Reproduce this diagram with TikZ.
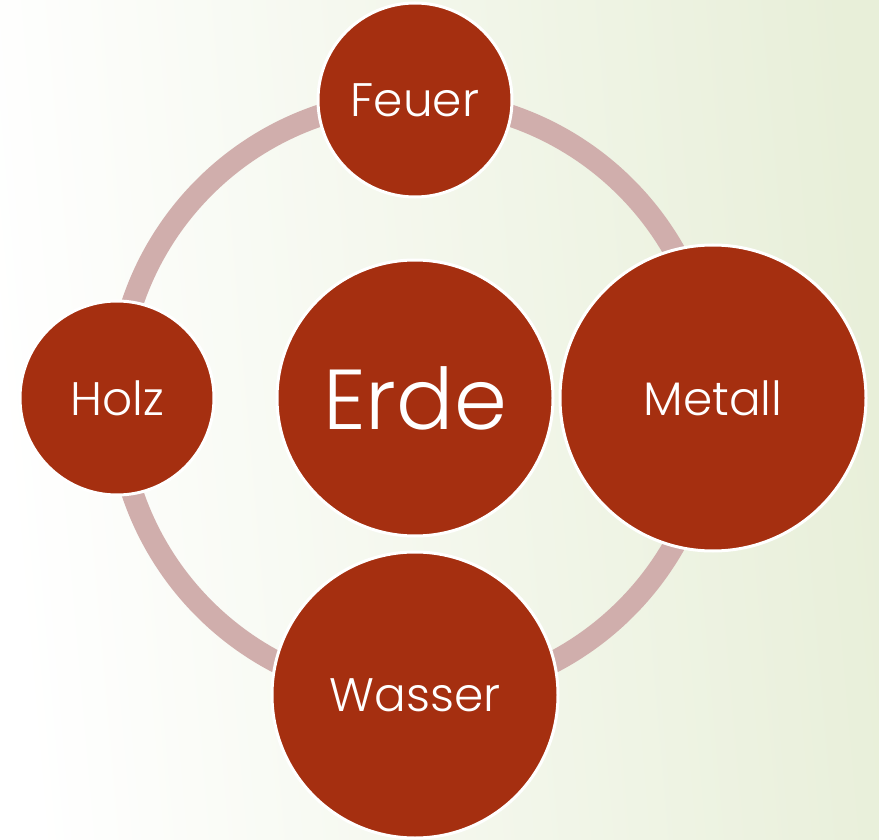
\documentclass[tikz,border=0pt]{standalone}
\usepackage{fontspec}
\setmainfont{Poppins}[UprightFont=* Light]
\definecolor{rust}{HTML}{A52F10}
\definecolor{ringc}{HTML}{D0AEAC}
\definecolor{bgg}{HTML}{E8EFD9}
\tikzset{
  elem/.style={circle, fill=rust, draw=white, line width=3pt, text=white, inner sep=0pt, font=\fontsize{47}{50}\selectfont},
}
\begin{document}
\begin{tikzpicture}[x=1pt,y=-1pt]
\useasboundingbox (0,0) rectangle (879,840);
\shade[left color=white, right color=bgg, shading angle=95] (0,0) rectangle (879,840);
\coordinate (c) at (415,398);
\draw[ringc, line width=22pt] (c) circle (298);
\node[elem, minimum size=194pt] (feuer) at (415,100) {Feuer};
\node[elem, minimum size=194pt] (holz) at (117,398) {Holz};
\node[elem, minimum size=276pt, font=\fontsize{85}{90}\selectfont] (erde) at (415,398) {Erde};
\node[elem, minimum size=306pt] (metall) at (713,398) {Metall};
\node[elem, minimum size=286pt] (wasser) at (415,695) {Wasser};
\end{tikzpicture}
\end{document}
